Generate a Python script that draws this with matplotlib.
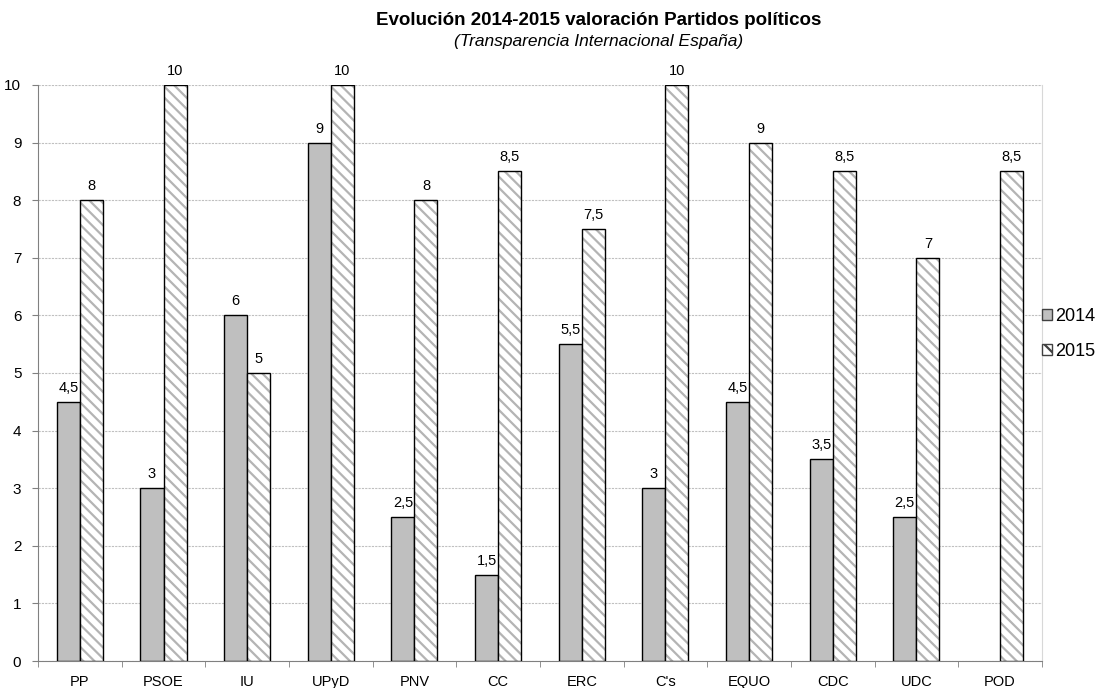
import matplotlib.pyplot as plt
import numpy as np

plt.rcParams['font.family'] = ['Liberation Sans', 'DejaVu Sans']
plt.rcParams['hatch.linewidth'] = 1.6

parties = ['PP', 'PSOE', 'IU', 'UPyD', 'PNV', 'CC', 'ERC', "C's", 'EQUO', 'CDC', 'UDC', 'POD']
vals_2014 = [4.5, 3, 6, 9, 2.5, 1.5, 5.5, 3, 4.5, 3.5, 2.5, None]
vals_2015 = [8, 10, 5, 10, 8, 8.5, 7.5, 10, 9, 8.5, 7, 8.5]


def fmt(v):
    return ('%g' % v).replace('.', ',')


fig = plt.figure(figsize=(10.99, 6.88), dpi=100)
ax = fig.add_axes([0.0346, 0.0392, 0.9134, 0.8373])

x = np.arange(len(parties))
w = 0.275

for xi, v in zip(x, vals_2014):
    if v is None:
        continue
    ax.bar(xi - w / 2, v, w, color='#bfbfbf', edgecolor='black', linewidth=1.0, zorder=3)
    ax.text(xi - w / 2, v + 0.12, fmt(v), ha='center', va='bottom', fontsize=10.5)

for xi, v in zip(x, vals_2015):
    ax.bar(xi + w / 2, v, w, color='white', edgecolor='#b4b4b4', hatch='\\\\\\', linewidth=0, zorder=3)
    ax.bar(xi + w / 2, v, w, fill=False, edgecolor='black', linewidth=1.0, zorder=4)
    ax.text(xi + w / 2, v + 0.12, fmt(v), ha='center', va='bottom', fontsize=10.5)

ax.set_xlim(-0.5, len(parties) - 0.5)
ax.set_ylim(0, 10)
ax.set_yticks(range(11))
ax.tick_params(axis='y', labelsize=11, length=4, color='#808080', pad=8)
ax.set_xticks(x)
ax.set_xticklabels(parties, fontsize=10.5)
ax.tick_params(axis='x', length=0, pad=10)
ax.set_xticks(np.arange(-0.5, len(parties)), minor=True)
ax.tick_params(axis='x', which='minor', length=4, color='#808080')
ax.grid(axis='y', color='#c0c0c0', linewidth=0.8, linestyle=(0, (2, 1)), zorder=0)

ax.spines['top'].set_visible(False)
ax.spines['right'].set_color('#d8d8d8')
ax.spines['left'].set_color('#808080')
ax.spines['bottom'].set_color('#808080')

fig.text(0.545, 0.982, 'Evolución 2014-2015 valoración Partidos políticos',
         ha='center', va='top', fontsize=13.5, fontweight='bold')
fig.text(0.545, 0.950, '(Transparencia Internacional España)',
         ha='center', va='top', fontsize=12.5, style='italic')

h1 = plt.Rectangle((0, 0), 1, 1, facecolor='#bfbfbf', edgecolor='#404040')
h2 = plt.Rectangle((0, 0), 1, 1, facecolor='white', edgecolor='#404040', hatch='\\\\')
fig.legend([h1, h2], ['2014', '2015'], loc='center left', bbox_to_anchor=(0.933, 0.515),
           frameon=False, fontsize=13, handlelength=0.55, handleheight=0.55,
           handletextpad=0.2, labelspacing=1.0)

fig.savefig('out.png', dpi=100)
